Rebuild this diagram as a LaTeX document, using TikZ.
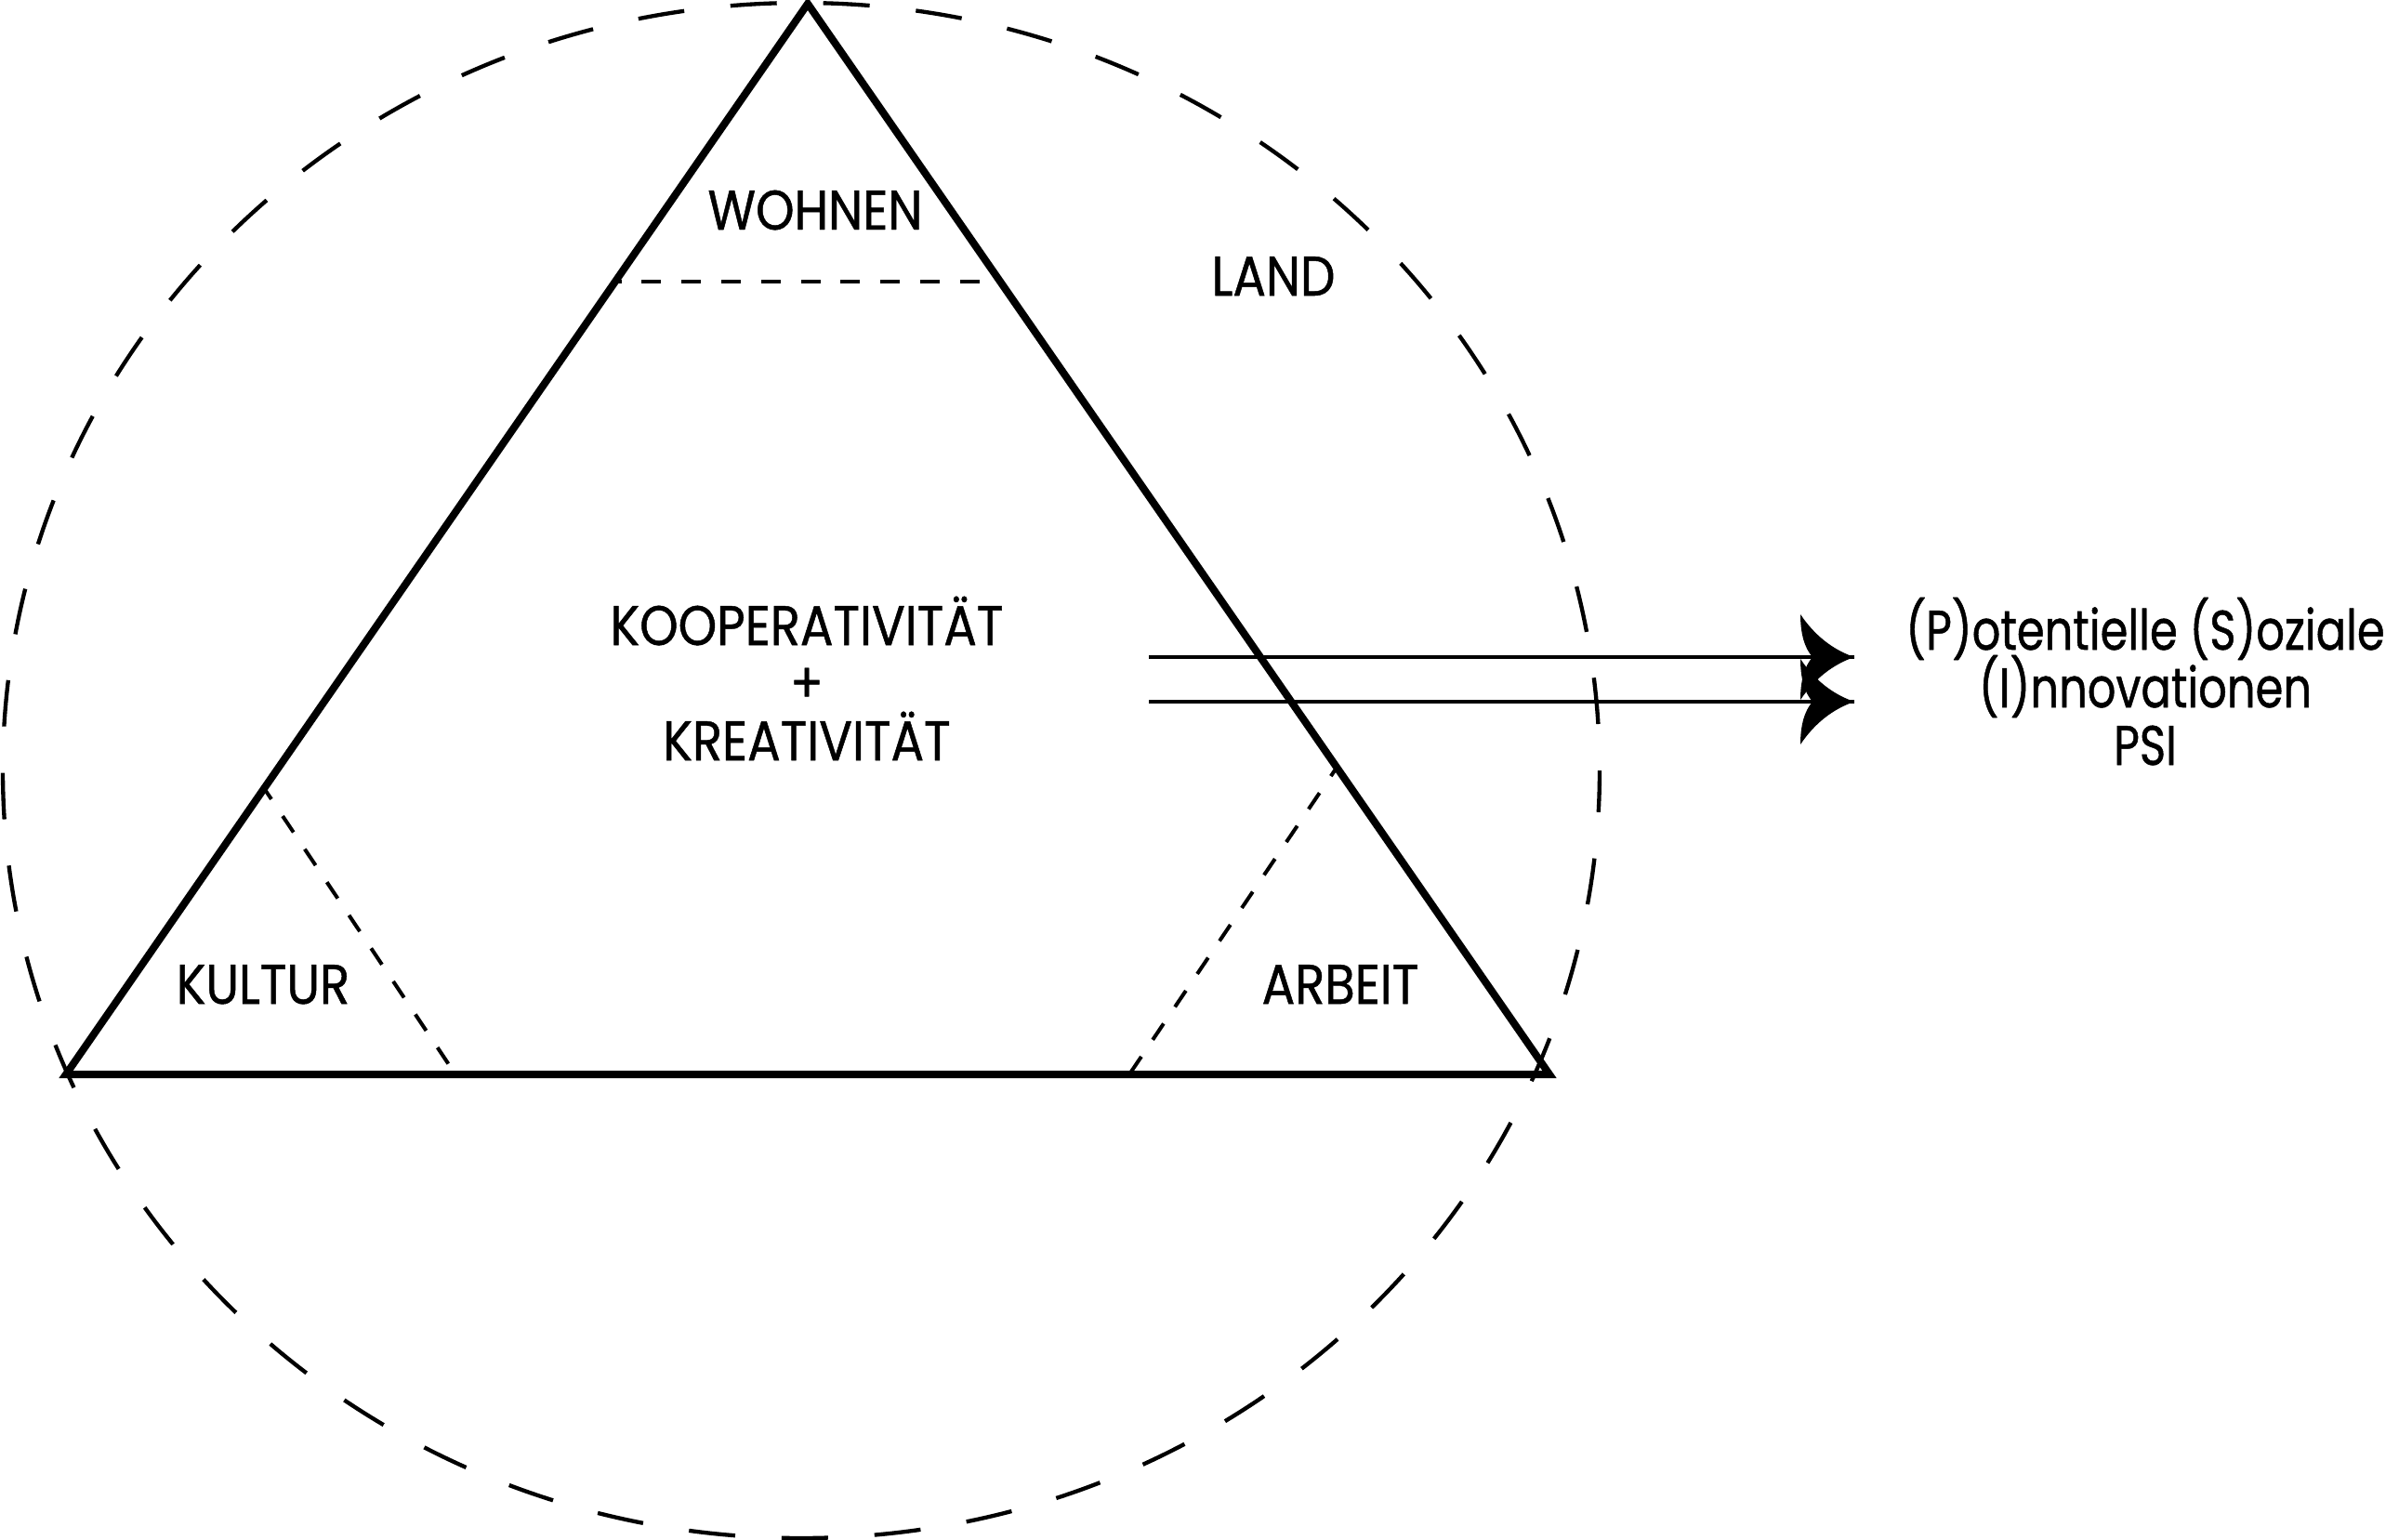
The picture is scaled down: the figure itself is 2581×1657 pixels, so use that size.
\documentclass[tikz,border=0pt]{standalone}
\usepackage{fontspec}
\setmainfont[FakeStretch=0.88,FakeBold=0.8]{Poppins}
\newfontfamily\psifont[FakeStretch=0.8,FakeBold=0.8]{Poppins}
\begin{document}
\begin{tikzpicture}[x=0.3pt,y=-0.3pt,
  tri/.style={line width=2.4pt, line join=miter},
  circ/.style={line width=1.3pt, dash pattern=on 15pt off 15pt, dash phase=15pt},
  innerdash/.style={line width=1.2pt, dash pattern=on 6.3pt off 6.54pt},
  arrowline/.style={line width=1.05pt},
  lbl/.style={font=\fontsize{18}{22}\selectfont, inner sep=0pt, anchor=base},
  psilbl/.style={lbl, font=\psifont\fontsize{18}{22}\selectfont},
  barbhead/.pic={
    \fill (0,0) .. controls (-23.3,-8) and (-42.7,-23.3) .. (-58,-46)
      .. controls (-58,-25.3) and (-53.7,-10) .. (-45,0)
      .. controls (-53.7,10) and (-58,25.3) .. (-58,46)
      .. controls (-42.7,23.3) and (-23.3,8) .. (0,0) -- cycle;
  }]
\useasboundingbox (0,0) rectangle (2581,1657);

% dashed outer circle
\coordinate (cc) at (862,829);
\draw[circ] (cc) ellipse [x radius=257.7pt, y radius=247.8pt];

% triangle
\coordinate (apex) at (869,4);
\coordinate (bl) at (71,1156);
\coordinate (br) at (1667,1156);
\draw[tri] (apex) -- (bl) -- (br) -- cycle;

% inner dashed separators
\coordinate (w1) at (662,303);
\coordinate (w2) at (1076,303);
\coordinate (k1) at (284,848);
\coordinate (k2) at (490,1156);
\coordinate (a1) at (1438,826);
\coordinate (a2) at (1215,1156);
\draw[innerdash, dash phase=4.35pt] (w1) -- (w2);
\draw[innerdash, dash phase=2pt] (k1) -- (k2);
\draw[innerdash, dash phase=3pt] (a1) -- (a2);

% labels
\node[lbl] (wohnen) at (877,247) {WOHNEN};
\node[lbl] (land) at (1370,318) {LAND};
\node[lbl] (koop) at (868,694) {KOOPERATIVITÄT};
\node[lbl] (plus) at (868,756) {+};
\node[lbl] (krea) at (868,818) {KREATIVITÄT};
\node[lbl] (kultur) at (283,1080) {KULTUR};
\node[lbl] (arbeit) at (1442,1080) {ARBEIT};
\node[psilbl] (psi1) at (2308,699) {(P)otentielle (S)oziale};
\node[psilbl] (psi2) at (2308,761) {(I)nnovationen};
\node[psilbl] (psi3) at (2308,823) {PSI};

% arrows
\coordinate (s1) at (1236,707);
\coordinate (t1) at (1995,707);
\coordinate (s2) at (1236,755);
\coordinate (t2) at (1995,755);
\draw[arrowline] (s1) -- (t1);
\draw[arrowline] (s2) -- (t2);
\pic at (t1) {barbhead};
\pic at (t2) {barbhead};
\end{tikzpicture}
\end{document}
